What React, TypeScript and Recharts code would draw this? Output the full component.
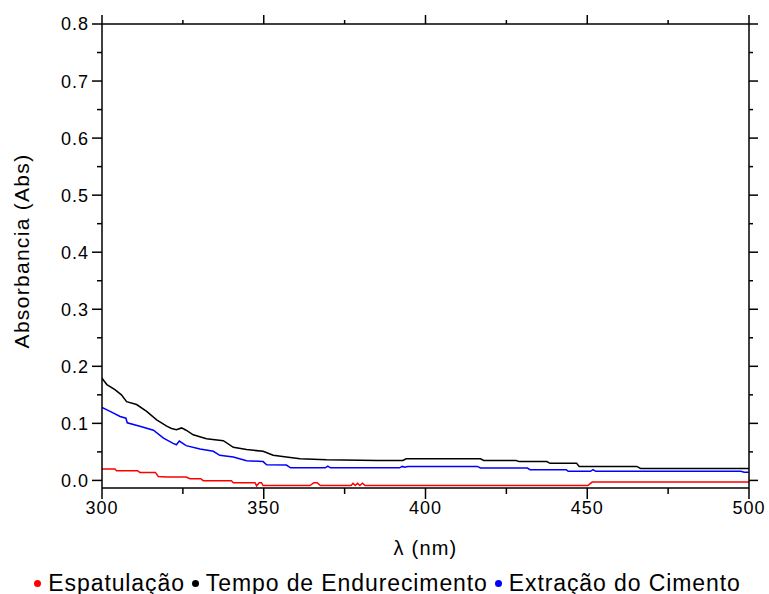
import { LineChart, Line, XAxis, YAxis, Legend, Label } from 'recharts'

const FONT = '"Liberation Sans", Arial, sans-serif'

// Espatulação (red)
const redWl = [300, 304, 304.5, 311, 311.7, 316.5, 317.4, 320, 326, 327.2, 330.5, 331.3, 340, 340.6, 347.3, 347.8, 348.6, 349.3, 349.8, 364.3, 365.5, 366.5, 367.5, 377, 377.6, 378.3, 379, 379.7, 380.5, 381.3, 450.2, 451.5, 500]
const redAbs = [0.020, 0.020, 0.017, 0.017, 0.014, 0.014, 0.007, 0.006, 0.006, 0.003, 0.003, -0.0005, -0.0005, -0.004, -0.004, -0.0095, -0.004, -0.004, -0.009, -0.009, -0.004, -0.004, -0.009, -0.009, -0.005, -0.009, -0.005, -0.009, -0.005, -0.009, -0.009, -0.003, -0.003]

// Tempo de Endurecimento (black)
const blackWl = [300, 301.5, 304, 306, 307.6, 310.7, 313.8, 316.9, 320, 321.5, 323, 324.6, 326, 328.2, 332.3, 337.5, 340.6, 344.7, 349.8, 352.9, 357, 361.2, 369.4, 385, 393, 394, 417, 418, 428, 429, 437.5, 438.5, 446.7, 447.5, 465.3, 466.5, 500]
const blackAbs = [0.179, 0.168, 0.159, 0.150, 0.138, 0.133, 0.121, 0.106, 0.095, 0.091, 0.089, 0.092, 0.088, 0.080, 0.073, 0.0696, 0.058, 0.054, 0.051, 0.044, 0.041, 0.038, 0.036, 0.035, 0.035, 0.038, 0.038, 0.035, 0.035, 0.033, 0.033, 0.030, 0.030, 0.0245, 0.0245, 0.021, 0.021]

// Extração do Cimento (blue)
const blueWl = [300, 302.5, 305.6, 307.4, 307.8, 311.7, 315.9, 319, 322, 323, 323.9, 326, 330.3, 334.4, 336.4, 340.6, 344.7, 349.8, 350.9, 357, 358.3, 369, 369.8, 370.6, 392, 392.8, 393.6, 394.5, 416, 417, 431.5, 432.3, 443.5, 444.1, 451, 451.8, 452.6, 497.5, 498.5, 500]
const blueAbs = [0.128, 0.121, 0.112, 0.109, 0.101, 0.095, 0.088, 0.074, 0.065, 0.0625, 0.069, 0.061, 0.055, 0.051, 0.044, 0.041, 0.0345, 0.033, 0.0275, 0.027, 0.022, 0.022, 0.025, 0.022, 0.022, 0.0245, 0.023, 0.0245, 0.0245, 0.0217, 0.0217, 0.0188, 0.0188, 0.016, 0.016, 0.019, 0.016, 0.016, 0.0145, 0.0145]

const seriesNames = ['Espatulação', 'Tempo de Endurecimento', 'Extração do Cimento']

const xTicks = [300, 325, 350, 375, 400, 425, 450, 475, 500]
const yTicks = [0, 0.05, 0.1, 0.15, 0.2, 0.25, 0.3, 0.35, 0.4, 0.45, 0.5, 0.55, 0.6, 0.65, 0.7, 0.75, 0.8]

const zip = (wl: number[], abs: number[]) => wl.map((w, i) => ({ wl: w, abs: abs[i] }))
const redData = zip(redWl, redAbs)
const blackData = zip(blackWl, blackAbs)
const blueData = zip(blueWl, blueAbs)

const isMajorX = (v: number) => v % 50 === 0
const isMajorY = (v: number) => Math.round(v * 100) % 10 === 0

const BottomTick = ({ x, y, payload }: any) => {
    const major = isMajorX(payload.value)
    return (
        <g>
            <line x1={x} x2={x} y1={y} y2={y + (major ? 11 : 6)} stroke="#000" strokeWidth={1.5} />
            {major && (
                <text x={x} y={y + 26} textAnchor="middle" fontSize={18} letterSpacing={1} fontFamily={FONT} fill="#000">
                    {payload.value}
                </text>
            )}
        </g>
    )
}

const TopTick = ({ x, y, payload }: any) => {
    const major = isMajorX(payload.value)
    return <line x1={x} x2={x} y1={y} y2={y - (major ? 9 : 4)} stroke="#000" strokeWidth={1.5} />
}

const LeftTick = ({ x, y, payload }: any) => {
    const major = isMajorY(payload.value)
    return (
        <g>
            <line x1={x} x2={x - (major ? 10 : 5)} y1={y} y2={y} stroke="#000" strokeWidth={1.5} />
            {major && (
                <text x={x - 13} y={y} dy="0.36em" textAnchor="end" fontSize={18} letterSpacing={1} fontFamily={FONT} fill="#000">
                    {payload.value.toFixed(1)}
                </text>
            )}
        </g>
    )
}

const RightTick = ({ x, y, payload }: any) => {
    const major = isMajorY(payload.value)
    return <line x1={x} x2={x + (major ? 9 : 4)} y1={y} y2={y} stroke="#000" strokeWidth={1.5} />
}

const YTitle = ({ viewBox }: any) => {
    const cy = viewBox.y + viewBox.height / 2 - 5
    return (
        <text x={21} y={cy} transform={`rotate(-90, 21, ${cy})`} dy="0.36em" textAnchor="middle" fontSize={21} letterSpacing={1.3} fontFamily={FONT} fill="#000">
            Absorbancia (Abs)
        </text>
    )
}

const LegendContent = ({ payload }: any) => {
    const items = [...(payload || [])].sort((a: any, b: any) => seriesNames.indexOf(a.value) - seriesNames.indexOf(b.value))
    return (
        <div style={{ display: 'flex', justifyContent: 'center', alignItems: 'center', fontFamily: FONT, fontSize: 23, color: '#000', height: 36, paddingTop: 14, paddingLeft: 6, boxSizing: 'border-box' }}>
            {items.map((p: any, i: number) => (
                <span key={p.value} style={{ display: 'flex', alignItems: 'center', marginRight: i < items.length - 1 ? 7 : 0 }}>
                    <span style={{ width: 7, height: 7, borderRadius: '50%', background: p.color, marginRight: 7, display: 'inline-block' }} />
                    <span style={{ letterSpacing: 0.9 }}>{p.value}</span>
                </span>
            ))}
        </div>
    )
}

export default function App() {
    return (
        <div style={{ position: 'absolute', left: 0, top: 0, background: '#fff' }}>
            <LineChart width={769} height={594} margin={{ top: 14, right: 0, left: 42, bottom: 0 }}>
                <XAxis
                    dataKey="wl" type="number" domain={[300, 500]} ticks={xTicks} interval={0}
                    allowDataOverflow height={70} tickSize={0} tickMargin={0} tick={<BottomTick />}
                    axisLine={{ stroke: '#000', strokeWidth: 1.5 }}
                >
                    <Label value="λ (nm)" position="insideBottom" offset={3} fontSize={20} fontFamily={FONT} fill="#000" letterSpacing={1.2} />
                </XAxis>
                <XAxis
                    xAxisId="top" orientation="top" dataKey="wl" type="number" domain={[300, 500]} ticks={xTicks}
                    interval={0} allowDataOverflow height={10} tickSize={0} tickMargin={0} tick={<TopTick />}
                    axisLine={{ stroke: '#000', strokeWidth: 1.5 }}
                />
                <YAxis
                    dataKey="abs" type="number" domain={[-0.0133, 0.8]} ticks={yTicks} interval={0}
                    allowDataOverflow width={60} tickSize={0} tickMargin={0} tick={<LeftTick />}
                    axisLine={{ stroke: '#000', strokeWidth: 1.5 }}
                >
                    <Label content={<YTitle />} />
                </YAxis>
                <YAxis
                    yAxisId="right" orientation="right" dataKey="abs" type="number" domain={[-0.0133, 0.8]} ticks={yTicks}
                    interval={0} allowDataOverflow width={20} tickSize={0} tickMargin={0} tick={<RightTick />}
                    axisLine={{ stroke: '#000', strokeWidth: 1.5 }}
                />
                <Legend verticalAlign="bottom" content={<LegendContent />} wrapperStyle={{ height: 36, left: 0, width: 769 }} />
                <Line data={redData} dataKey="abs" name="Espatulação" stroke="#ff0000" strokeWidth={1.5} dot={false} isAnimationActive={false} />
                <Line data={blackData} dataKey="abs" name="Tempo de Endurecimento" stroke="#000000" strokeWidth={1.5} dot={false} isAnimationActive={false} />
                <Line data={blueData} dataKey="abs" name="Extração do Cimento" stroke="#0000ff" strokeWidth={1.5} dot={false} isAnimationActive={false} />
            </LineChart>
        </div>
    )
}
